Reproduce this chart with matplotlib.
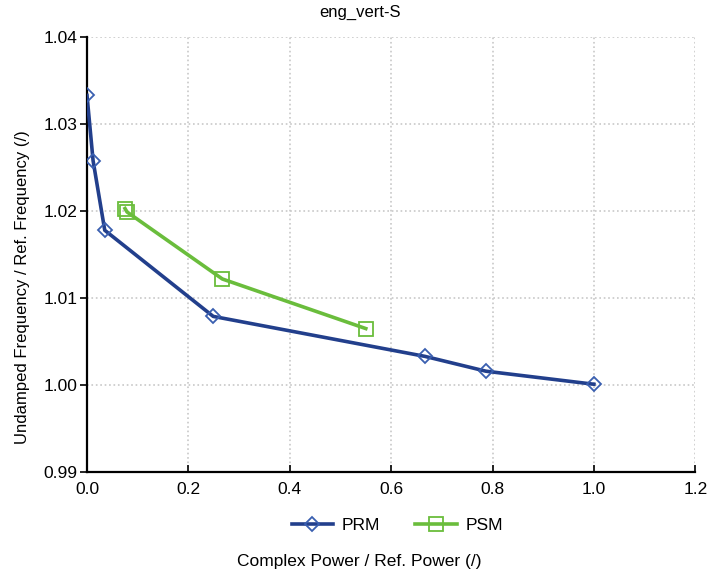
import matplotlib
matplotlib.use("Agg")
import matplotlib.pyplot as plt

plt.rcParams['font.family'] = ['Liberation Sans', 'DejaVu Sans']

# PRM / PSM curves: complex power vs undamped frequency (both normalised)
prm_power = [0.0, 0.012, 0.035, 0.249, 0.667, 0.787, 1.0]
prm_freq = [1.0333, 1.0258, 1.0178, 1.0079, 1.0033, 1.0016, 1.0001]
psm_power = [0.075, 0.079, 0.267, 0.550]
psm_freq = [1.0203, 1.0199, 1.0122, 1.0065]

x_ticks = [0.0, 0.2, 0.4, 0.6, 0.8, 1.0, 1.2]
y_ticks = [0.99, 1.00, 1.01, 1.02, 1.03, 1.04]

fig = plt.figure(figsize=(7.19, 5.8), dpi=100)
ax = fig.add_axes([0.121, 0.186, 0.846, 0.75])

ax.plot(prm_power, prm_freq, color='#223f8c', lw=2.6, marker='D', ms=7,
        mfc='none', mec='#3a5fb0', mew=1.3, label='PRM', zorder=3)
ax.plot(psm_power, psm_freq, color='#6abd3c', lw=2.6, marker='s', ms=10,
        mfc='none', mec='#6abd3c', mew=1.3, label='PSM', zorder=3)

ax.set_xlim(0, 1.2)
ax.set_ylim(0.99, 1.04)
ax.set_xticks(x_ticks)
ax.set_yticks(y_ticks)
ax.set_xticklabels([f'{v:.1f}' for v in x_ticks])
ax.set_yticklabels([f'{v:.2f}' for v in y_ticks])
ax.tick_params(axis='both', labelsize=12.5, width=1.2)
ax.tick_params(axis='x', direction='in', length=5, pad=7)
ax.tick_params(axis='y', direction='out', length=5, pad=2)

ax.grid(True, color='#c8c8c8', ls=':', lw=1.2)
ax.set_axisbelow(True)
for side in ('top', 'right'):
    ax.spines[side].set_visible(False)
for side in ('left', 'bottom'):
    ax.spines[side].set_linewidth(1.6)

fig.text(0.5, 0.979, 'eng_vert-S', fontsize=12, ha='center', va='center')
fig.text(0.031, 0.505, 'Undamped Frequency / Ref. Frequency (/)', fontsize=12,
         rotation=90, ha='center', va='center')
fig.text(0.5, 0.024, 'Complex Power / Ref. Power (/)', fontsize=12.5, ha='center')

ax.legend(loc='center', bbox_to_anchor=(0.51, -0.122), ncol=2, frameon=False,
          fontsize=12.5, handlelength=2.4, handletextpad=0.5, columnspacing=2.0)

fig.savefig('out.png', dpi=100)
